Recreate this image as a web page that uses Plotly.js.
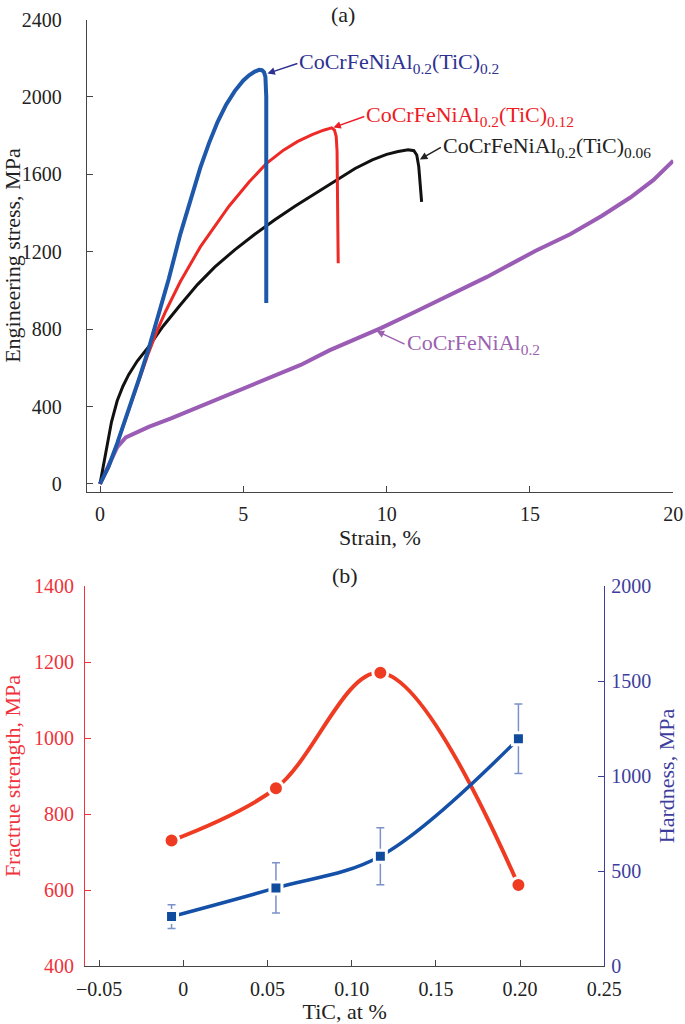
<!DOCTYPE html>
<html>
<head>
<meta charset="utf-8">
<script src="https://cdn.plot.ly/plotly-3.0.1.min.js"></script>
<style>html,body{margin:0;padding:0;background:#fff;}#chart{width:685px;height:1024px;}</style>
</head>
<body>
<div id="chart"></div>
<script>
// ---- Panel (a): engineering stress-strain curves ----
const strainTiC02 = [0, 0.3, 0.6, 1.0, 1.4, 1.7, 2.0, 2.4, 2.8, 3.2, 3.5, 3.8, 4.1, 4.4, 4.7, 5.0, 5.2, 5.4, 5.55, 5.65, 5.72, 5.77, 5.8, 5.8];
const stressTiC02 = [0, 90, 210, 380, 560, 700, 850, 1060, 1290, 1495, 1635, 1760, 1870, 1960, 2030, 2085, 2112, 2131, 2140, 2138, 2128, 2105, 2000, 935];

const strainTiC012 = [0, 0.3, 0.6, 1.0, 1.4, 1.7, 2.0, 2.3, 2.8, 3.5, 4.5, 5.2, 5.8, 6.4, 6.9, 7.4, 7.8, 8.08, 8.18, 8.24, 8.27, 8.29, 8.31];
const stressTiC012 = [0, 85, 210, 380, 550, 680, 795, 895, 1045, 1225, 1435, 1560, 1655, 1725, 1770, 1805, 1828, 1840, 1828, 1795, 1720, 1500, 1140];

const strainTiC006 = [0, 0.2, 0.4, 0.6, 0.8, 1.0, 1.3, 1.7, 2.2, 2.8, 3.4, 4.0, 4.7, 5.4, 6.1, 6.8, 7.5, 8.2, 8.9, 9.5, 10.0, 10.4, 10.75, 10.95, 11.05, 11.12, 11.17, 11.22];
const stressTiC006 = [0, 170, 320, 430, 505, 565, 635, 710, 815, 925, 1030, 1120, 1210, 1290, 1365, 1435, 1500, 1568, 1630, 1675, 1703, 1718, 1727, 1722, 1700, 1640, 1560, 1458];

const strainBase = [0, 0.3, 0.6, 0.9, 1.3, 1.7, 2.5, 3.4, 4.5, 5.8, 7.0, 8.0, 9.8, 11.0, 12.5, 13.5, 15.2, 16.4, 17.5, 18.5, 19.3, 20.0];
const stressBase = [0, 100, 190, 240, 270, 295, 340, 395, 460, 537, 615, 690, 805, 890, 1000, 1070, 1205, 1290, 1385, 1480, 1570, 1670];

const xTicksA = [0, 5, 10, 15, 20];
const yTicksA = [0, 400, 800, 1200, 1600, 2000, 2400];

// ---- Panel (b): fracture strength and hardness vs TiC ----
const ticContent = [-0.007, 0.055, 0.117, 0.199];
const fractureStrength = [730, 868, 1172, 613];
const hardness = [260, 411, 578, 1196];
const hardnessErr = [63, 132, 150, 183];

const xTicksB = [-0.05, 0, 0.05, 0.10, 0.15, 0.20, 0.25];
const xTickTextB = ['\u22120.05', '0', '0.05', '0.10', '0.15', '0.20', '0.25'];
const yTicksBLeft = [400, 600, 800, 1000, 1200, 1400];
const yTicksBRight = [0, 500, 1000, 1500, 2000];

const FONT = 'Liberation Serif, Times New Roman, serif';
const W = 685, H = 1024;

const cBlue = '#1d58aa', cRed = '#ee2a26', cBlack = '#111111', cPurple = '#9a5cb4';
const tBlue = '#2e3192', tRed = '#ee1c25', tPurple = '#9b62b0';
const axRed = '#f0323a', axNavy = '#3d3d9e';

const traces = [
  {x: strainBase, y: stressBase, type: 'scatter', mode: 'lines', line: {color: cPurple, width: 4, shape: 'linear'}, xaxis: 'x', yaxis: 'y', name: 'CoCrFeNiAl0.2'},
  {x: strainTiC006, y: stressTiC006, type: 'scatter', mode: 'lines', line: {color: cBlack, width: 3, shape: 'linear'}, xaxis: 'x', yaxis: 'y', name: '0.06'},
  {x: strainTiC012, y: stressTiC012, type: 'scatter', mode: 'lines', line: {color: cRed, width: 3, shape: 'linear'}, xaxis: 'x', yaxis: 'y', name: '0.12'},
  {x: strainTiC02, y: stressTiC02, type: 'scatter', mode: 'lines', line: {color: cBlue, width: 4, shape: 'linear'}, xaxis: 'x', yaxis: 'y', name: '0.2'},
  {x: ticContent, y: hardness, type: 'scatter', mode: 'lines+markers', xaxis: 'x2', yaxis: 'y3',
   line: {color: '#1450a8', width: 3.5, shape: 'spline', smoothing: 1},
   marker: {symbol: 'square', size: 12, color: '#0f4c9e', line: {color: '#ffffff', width: 3}},
   error_y: {type: 'data', array: hardnessErr, visible: true, color: '#7a92c8', thickness: 1.5, width: 4},
   name: 'Hardness'},
  {x: ticContent, y: fractureStrength, type: 'scatter', mode: 'lines+markers', xaxis: 'x2', yaxis: 'y2',
   line: {color: '#ee3b22', width: 4, shape: 'spline', smoothing: 1},
   marker: {symbol: 'circle', size: 15, color: '#ee3b22', line: {color: '#ffffff', width: 3}},
   name: 'Fracture strength'}
];

const baseAxis = {showgrid: false, zeroline: false, showline: true, ticks: 'inside', ticklen: 6, tickwidth: 1, automargin: false, fixedrange: true};

const layout = {
  width: W, height: H,
  margin: {l: 0, r: 0, t: 0, b: 0},
  paper_bgcolor: '#ffffff', plot_bgcolor: 'rgba(0,0,0,0)',
  showlegend: false,
  font: {family: FONT, size: 20, color: '#222'},
  xaxis: Object.assign({}, baseAxis, {
    domain: [86.7 / W, 673.3 / W], range: [-0.464, 20], anchor: 'y',
    tickvals: xTicksA, linecolor: '#444', tickcolor: '#444', tickfont: {family: FONT, size: 20, color: '#222'},
    ticklabelstandoff: 4,
    title: {text: 'Strain, %', font: {family: FONT, size: 22, color: '#222'}, standoff: 2}
  }),
  yaxis: Object.assign({}, baseAxis, {
    domain: [1 - 491.7 / H, 1 - 19.5 / H], range: [-40, 2400], anchor: 'x',
    tickvals: yTicksA, linecolor: '#444', tickcolor: '#444', tickfont: {family: FONT, size: 20, color: '#222'},
    ticklabelstandoff: 20,
    title: {text: 'Engineering stress, MPa', font: {family: FONT, size: 22, color: '#222'}, standoff: 2}
  }),
  xaxis2: Object.assign({}, baseAxis, {
    domain: [85 / W, 604.3 / W], range: [-0.0584, 0.25], anchor: 'y2',
    tickvals: xTicksB, ticktext: xTickTextB, linecolor: '#444', tickcolor: '#444', tickfont: {family: FONT, size: 20, color: '#222'},
    ticklabelstandoff: 5,
    title: {text: 'TiC, at %', font: {family: FONT, size: 22, color: '#222'}, standoff: 2}
  }),
  yaxis2: Object.assign({}, baseAxis, {
    domain: [1 - 966 / H, 1 - 586 / H], range: [400, 1400], anchor: 'x2',
    tickvals: yTicksBLeft, linecolor: axRed, tickcolor: axRed, tickfont: {family: FONT, size: 20, color: axRed},
    ticklabelstandoff: 6,
    title: {text: 'Fractrue strength, MPa', font: {family: FONT, size: 22, color: axRed}, standoff: 8}
  }),
  yaxis3: Object.assign({}, baseAxis, {
    domain: [1 - 966 / H, 1 - 586 / H], range: [0, 2000], anchor: 'x2', overlaying: 'y2', side: 'right',
    tickvals: yTicksBRight, linecolor: axNavy, tickcolor: axNavy, tickfont: {family: FONT, size: 20, color: axNavy},
    ticklabelstandoff: 2,
    title: {text: 'Hardness, MPa', font: {family: FONT, size: 22, color: axNavy}, standoff: 8}
  }),
  annotations: [
    {xref: 'paper', yref: 'paper', x: 343 / W, y: 1 - 14 / H, text: '(a)', showarrow: false, font: {family: FONT, size: 22, color: '#222'}, xanchor: 'center', yanchor: 'middle'},
    {xref: 'paper', yref: 'paper', x: 345 / W, y: 1 - 575 / H, text: '(b)', showarrow: false, font: {family: FONT, size: 22, color: '#222'}, xanchor: 'center', yanchor: 'middle'},
    {xref: 'x', yref: 'y', x: 5.84, y: 2121, ax: 30, ay: -10, text: 'CoCrFeNiAl<sub>0.2</sub>(TiC)<sub>0.2</sub>',
     showarrow: true, arrowhead: 2, arrowsize: 1, arrowwidth: 1.5, arrowcolor: tBlue, xanchor: 'left', yanchor: 'middle',
     font: {family: FONT, size: 22, color: tBlue}},
    {xref: 'x', yref: 'y', x: 8.14, y: 1842, ax: 31, ay: -11, text: 'CoCrFeNiAl<sub>0.2</sub>(TiC)<sub>0.12</sub>',
     showarrow: true, arrowhead: 2, arrowsize: 1, arrowwidth: 1.5, arrowcolor: tRed, xanchor: 'left', yanchor: 'middle',
     font: {family: FONT, size: 22, color: tRed}},
    {xref: 'x', yref: 'y', x: 11.16, y: 1677, ax: 21, ay: -12, text: 'CoCrFeNiAl<sub>0.2</sub>(TiC)<sub>0.06</sub>',
     showarrow: true, arrowhead: 2, arrowsize: 1, arrowwidth: 1.5, arrowcolor: '#222', xanchor: 'left', yanchor: 'middle',
     font: {family: FONT, size: 22, color: '#222'}},
    {xref: 'x', yref: 'y', x: 9.65, y: 790, ax: 28, ay: 13, text: 'CoCrFeNiAl<sub>0.2</sub>',
     showarrow: true, arrowhead: 2, arrowsize: 1, arrowwidth: 1.5, arrowcolor: tPurple, xanchor: 'left', yanchor: 'middle',
     font: {family: FONT, size: 22, color: tPurple}}
  ]
};

Plotly.newPlot('chart', traces, layout, {displayModeBar: false, staticPlot: true});
</script>
</body>
</html>
